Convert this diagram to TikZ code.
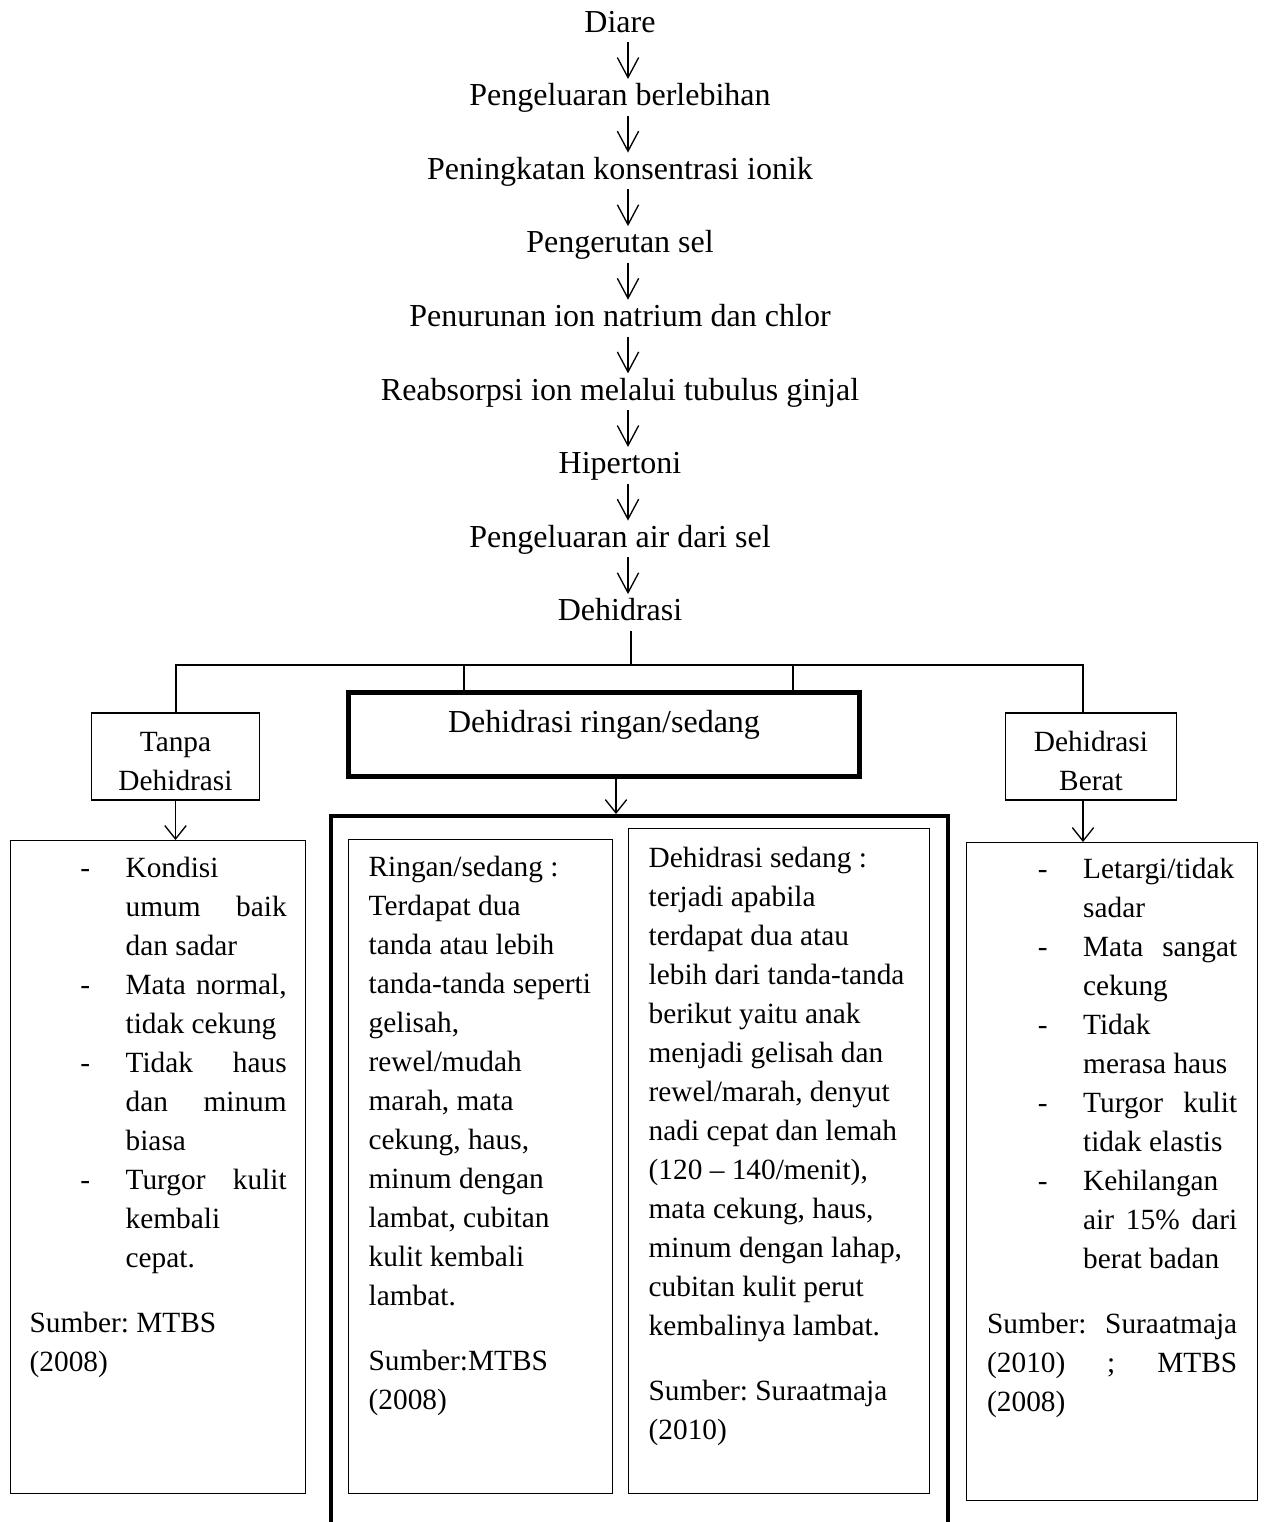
\documentclass[tikz,border=0pt]{standalone}
\usepackage{fontspec}
\setmainfont{Liberation Serif}
\usepackage{tikz}
\usetikzlibrary{arrows.meta,positioning,calc}
\newcommand{\alurfont}{\fontsize{12}{14}\selectfont}
\newcommand{\boxfont}{\fontsize{11}{14.625}\selectfont\frenchspacing}
\newcommand{\butir}{\makebox[36pt][l]{\hspace*{19pt}-}}
\newcommand{\lanjut}{\hspace*{36pt}}

\begin{document}
\begin{tikzpicture}[
  x=0.375pt, y=-0.375pt,
  node distance=14.6pt,
  every node/.style={font=\boxfont},
  alur/.style={font=\alurfont, inner xsep=0pt, inner ysep=0.8pt, outer sep=0pt,
    text height=8.4pt, text depth=3pt},
  judul/.style={draw, line width=0.5pt, align=center, font=\boxfont},
  tebal/.style={draw, line width=1.6pt},
  isi/.style={draw, line width=0.5pt, anchor=north west},
  panah/.style={-{Straight Barb[length=7.5pt,width=8pt]}, line width=0.5pt,
    shorten >=0.8pt},
  panahbox/.style={-{Straight Barb[length=5pt,width=8pt]}, line width=0.5pt},
  garis/.style={line width=0.7pt}]
\useasboundingbox (0,0) rectangle (1264,1522);
% alur dari diare sampai dehidrasi
\node[alur, anchor=base] (diare) at (620,32) {Diare};
\node[alur, below=of diare] (keluar) {Pengeluaran berlebihan};
\node[alur, below=of keluar] (ionik) {Peningkatan konsentrasi ionik};
\node[alur, below=of ionik] (kerut) {Pengerutan sel};
\node[alur, below=of kerut] (natrium) {Penurunan ion natrium dan chlor};
\node[alur, below=of natrium] (reabsorpsi) {Reabsorpsi ion melalui tubulus ginjal};
\node[alur, below=of reabsorpsi] (hipertoni) {Hipertoni};
\node[alur, below=of hipertoni] (keluarair) {Pengeluaran air dari sel};
\node[alur, below=of keluarair] (dehidrasi) {Dehidrasi};
\foreach \a/\b in {diare/keluar, keluar/ionik, ionik/kerut, kerut/natrium,
                   natrium/reabsorpsi, reabsorpsi/hipertoni,
                   hipertoni/keluarair, keluarair/dehidrasi} {
  \draw[panah] ([xshift=3pt]\a.south) -- ([xshift=3pt]\b.north);}
% tiga derajat dehidrasi
\node[judul, minimum width=63pt, minimum height=32.6pt] (tanpa) at (175.5,756.5)
  {\rule{0pt}{11.3pt}Tanpa\\Dehidrasi};
\node[tebal, minimum width=191.6pt, minimum height=31.5pt, font=\alurfont,
      text height=8.4pt, text depth=10.1pt] (ringan) at (604,734.5)
  {Dehidrasi ringan/sedang};
\node[judul, minimum width=64.3pt, minimum height=32.6pt] (berat) at (1091,756.5)
  {\rule{0pt}{11.3pt}Dehidrasi\\Berat};
\coordinate (pusat) at (631,665);
\coordinate (kirijalur) at (176,665);
\coordinate (kananjalur) at (1083,665);
\coordinate (ta) at (464,665);
\coordinate (tb) at (793,665);
\coordinate (tengah) at (616,665);
\draw[garis] (dehidrasi.south -| pusat) -- (pusat);
\draw[garis] (tanpa.north -| kirijalur) -- (kirijalur) -- (kananjalur)
  -- (kananjalur |- berat.north);
\draw[garis] (ta) -- (ta |- ringan.north);
\draw[garis] (tb) -- (tb |- ringan.north);
% kotak keterangan
\node[isi, inner xsep=7.125pt, inner ysep=3.64pt] (kiri) at (10,840)
  {\parbox[t][237.6pt][t]{96.375pt}{\raggedright\strut\butir Kondisi\\
   \lanjut umum\hfill baik\\
   \lanjut dan sadar\\
   \butir Mata\hfill normal,\\
   \lanjut tidak cekung\\
   \butir Tidak\hfill haus\\
   \lanjut dan\hfill minum\\
   \lanjut biasa\\
   \butir Turgor\hfill kulit\\
   \lanjut kembali\\
   \lanjut cepat.\\[9.75pt]
   Sumber: MTBS\\
   (2008)}};
\node[tebal, anchor=north west, minimum width=231.2pt, minimum height=272pt]
  (besar) at (329,814) {};
\node[isi, inner xsep=7.5pt, inner ysep=3.75pt] (ringansedang) at (348,839)
  {\parbox[t][237.75pt][t]{84pt}{\raggedright\strut Ringan/sedang :\\
   Terdapat dua\\
   tanda atau lebih\\
   tanda-tanda seperti\\
   gelisah,\\
   rewel/mudah\\
   marah, mata\\
   cekung, haus,\\
   minum dengan\\
   lambat, cubitan\\
   kulit kembali\\
   lambat.\\[9.75pt]
   Sumber:MTBS\\
   (2008)}};
\node[isi, inner xsep=7.5pt, inner ysep=4.39pt] (sedang) at (628,828)
  {\parbox[t][240.6pt][t]{97.875pt}{\raggedright\strut Dehidrasi sedang :\\
   terjadi apabila\\
   terdapat dua atau\\
   lebih dari tanda-tanda\\
   berikut yaitu anak\\
   menjadi gelisah dan\\
   rewel/marah, denyut\\
   nadi cepat dan lemah\\
   (120 -- 140/menit),\\
   mata cekung, haus,\\
   minum dengan lahap,\\
   cubitan kulit perut\\
   kembalinya lambat.\\[9.75pt]
   Sumber: Suraatmaja\\
   (2010)}};
\node[isi, inner xsep=7.69pt, inner ysep=3.26pt] (kanan) at (966,842)
  {\parbox[t][240.2pt][t]{93.75pt}{\raggedright\strut\butir Letargi/tidak\\
   \lanjut sadar\\
   \butir Mata\hfill sangat\\
   \lanjut cekung\\
   \butir Tidak\\
   \lanjut merasa haus\\
   \butir Turgor\hfill kulit\\
   \lanjut tidak elastis\\
   \butir Kehilangan\\
   \lanjut air\hfill 15\%\hfill dari\\
   \lanjut berat badan\\[9.75pt]
   Sumber:\hfill Suraatmaja\\
   (2010)\hfill;\hfill MTBS\\
   (2008)}};
\draw[panahbox] (tanpa.south) -- (tanpa.south |- kiri.north);
\draw[panahbox] (ringan.south -| tengah) -- (tengah |- besar.north);
\draw[panahbox] (berat.south -| kananjalur) -- (kananjalur |- kanan.north);
\end{tikzpicture}
\end{document}
